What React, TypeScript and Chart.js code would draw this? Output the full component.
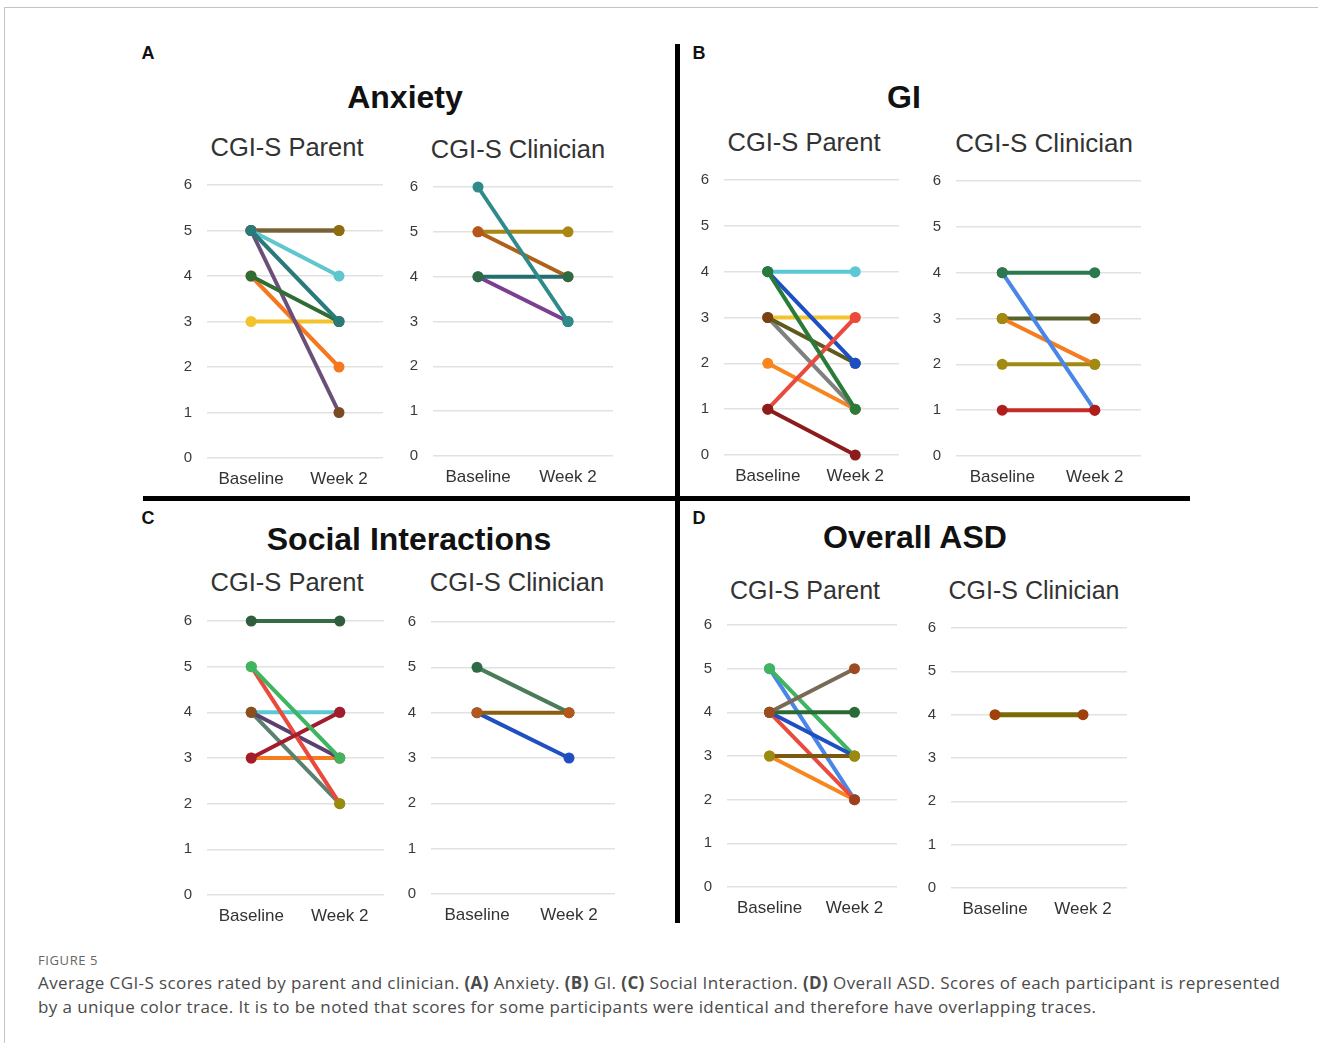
import React, { useEffect, useRef } from "react";
import { Chart, registerables } from "chart.js";

Chart.register(...registerables);

// ---------- data ----------
const categories = ["Baseline", "Week 2"];
const yTickMin = 0;
const yTickMax = 6;

// A: Anxiety
const anxietyParent = [[3, 3], [4, 2], [5, 5], [5, 5], [5, 4], [5, 1], [4, 3], [5, 3]];
const anxietyParentLine = ["#f4c22b", "#f5781e", "#a3850c", "#76603e", "#5ec6cc", "#6a5079", "#2f6d35", "#2a7a7b"];
const anxietyParentPoint = ["#f4c22b", "#f5781e", "#a3850c", "#8d6c12", "#5ec6cc", "#7a4a22", "#2f6d35", "#2a7a7b"];

const anxietyClinician = [[4, 3], [5, 5], [5, 4], [4, 4], [6, 3]];
const anxietyClinicianLine = ["#7b3f8f", "#a88712", "#b0601a", "#236e6e", "#2f8a8a"];
const anxietyClinicianPoint = ["#2a7a7b", "#a88712", "#b5561a", "#2e6b45", "#2f8a8a"];

// B: GI
const giParent = [[4, 4], [3, 3], [2, 1], [3, 1], [3, 2], [4, 2], [1, 3], [4, 1], [1, 0]];
const giParentLine = ["#5bc8d6", "#f4c430", "#f7861f", "#808080", "#5d5a1e", "#1d4fc4", "#ea4a3d", "#2a7a3a", "#8c1c1c"];
const giParentPoint = ["#5bc8d6", "#f4c430", "#f7861f", "#808080", "#7a4010", "#1d4fc4", "#ea4a3d", "#2a7a3a", "#8c1c1c"];

const giClinician = [[2, 2], [1, 1], [3, 3], [3, 2], [4, 1], [4, 4]];
const giClinicianLine = ["#a08a10", "#c62a2a", "#56632a", "#f57c20", "#4a86e8", "#2a7a50"];
const giClinicianPoint = ["#a08a10", "#b01d1d", "#8a4a10", "#a08a10", "#b01d1d", "#2a7a50"];

// C: Social Interactions
const socialParent = [[6, 6], [3, 3], [4, 4], [4, 2], [4, 3], [5, 2], [3, 4], [5, 3]];
const socialParentLine = ["#356b45", "#f57c20", "#5bc8d6", "#5a8070", "#5a4070", "#ea4a3d", "#a21c2c", "#3fb560"];
const socialParentPoint = ["#2e5e3c", "#f57c20", "#8a5020", "#9a8a10", "#8a5020", "#9a8a10", "#a21c2c", "#3fb560"];

const socialClinician = [[5, 4], [4, 3], [4, 4]];
const socialClinicianLine = ["#4a7c59", "#1f4fc0", "#8a6010"];
const socialClinicianPoint = ["#2e6b45", "#1f4fc0", "#b5561a"];

// D: Overall ASD
const overallParent = [[3, 2], [5, 2], [4, 2], [5, 3], [4, 3], [4, 4], [3, 3], [4, 5]];
const overallParentLine = ["#f7861f", "#4a86e8", "#ea4a3d", "#3fb560", "#1f4fc0", "#2a6b35", "#7a5a10", "#7a6a55"];
const overallParentPoint = ["#f7861f", "#4a86e8", "#a0401a", "#3fb560", "#9a8a10", "#2a6b35", "#9a8a10", "#a04a20"];

const overallClinician = [[4, 4]];
const overallClinicianLine = ["#7a6a05"];
const overallClinicianPoint = ["#a0400a"];

// ---------- layout ----------
type Box = { left: number; top: number; w: number; h: number };
const YW = 40;
const PT = 14;
const PR = 10;
const XH = 36;
const FONT = "'Liberation Sans', Arial, sans-serif";

function MiniChart(props: {
  box: Box;
  values: number[][];
  lineColors: string[];
  pointColors: string[];
  lineWidth?: number;
}) {
  const { box, values, lineColors, pointColors, lineWidth } = props;
  const ref = useRef<HTMLCanvasElement>(null);
  useEffect(() => {
    const chart = new Chart(ref.current as HTMLCanvasElement, {
      type: "line",
      data: {
        labels: categories,
        datasets: values.map((v, i) => ({
          data: v,
          borderColor: lineColors[i],
          backgroundColor: pointColors[i],
          pointBackgroundColor: pointColors[i],
          pointBorderColor: pointColors[i],
          pointRadius: 5.5,
          pointBorderWidth: 0,
          borderWidth: lineWidth || 4,
          clip: false,
          fill: false,
          tension: 0,
          order: values.length - i,
        })),
      },
      options: {
        animation: false,
        responsive: false,
        maintainAspectRatio: false,
        events: [],
        layout: { padding: { top: PT, right: PR, left: 0, bottom: 0 } },
        plugins: {
          legend: { display: false },
          tooltip: { enabled: false },
          title: { display: false },
        },
        scales: {
          x: {
            type: "category",
            offset: true,
            grid: { display: false, drawTicks: false },
            border: { display: false },
            ticks: {
              font: { family: FONT, size: 17 },
              color: "#333",
              padding: 11,
              maxRotation: 0,
            },
            afterFit: (s: any) => {
              s.height = XH;
              s.paddingLeft = 0;
              s.paddingRight = 0;
            },
          },
          y: {
            min: yTickMin,
            max: yTickMax,
            ticks: {
              stepSize: 1,
              font: { family: FONT, size: 15 },
              color: "#3a3a3a",
              padding: 15,
            },
            grid: { color: "#e2e2e2", lineWidth: 1.5, drawTicks: false },
            border: { display: false },
            afterFit: (s: any) => {
              s.width = YW;
              s.paddingTop = 0;
              s.paddingBottom = 0;
            },
          },
        },
      } as any,
    });
    return () => chart.destroy();
  }, []);
  const W = box.w + YW + PR;
  const H = box.h + PT + XH;
  return (
    <canvas
      ref={ref}
      width={W}
      height={H}
      style={{ position: "absolute", left: box.left - YW, top: box.top - PT, width: W, height: H }}
    />
  );
}

function Text(props: { x: number; y: number; size: number; bold?: boolean; color?: string; children: any }) {
  return (
    <div
      style={{
        position: "absolute",
        left: props.x,
        top: props.y,
        transform: "translate(-50%, -50%)",
        fontFamily: FONT,
        fontSize: props.size,
        fontWeight: props.bold ? 700 : 400,
        color: props.color || "#111",
        lineHeight: 1,
        whiteSpace: "nowrap",
      }}
    >
      {props.children}
    </div>
  );
}

export default function App() {
  return (
    <div style={{ position: "absolute", left: 0, top: 0, width: 1318, height: 1043, background: "#fff", overflow: "hidden" }}>
      {/* frame */}
      <div style={{ position: "absolute", left: 4, top: 7, width: 1320, height: 1040, borderTop: "1px solid #c4c4c4", borderLeft: "1px solid #c4c4c4" }} />
      {/* dividers */}
      <div style={{ position: "absolute", left: 675, top: 44, width: 5, height: 879, background: "#000" }} />
      <div style={{ position: "absolute", left: 143, top: 496, width: 1047, height: 5, background: "#000" }} />

      {/* panel letters */}
      <Text x={148} y={53} size={18} bold>A</Text>
      <Text x={699} y={53} size={18} bold>B</Text>
      <Text x={148} y={518} size={18} bold>C</Text>
      <Text x={699} y={518} size={18} bold>D</Text>

      {/* titles */}
      <Text x={405} y={97} size={32} bold>Anxiety</Text>
      <Text x={904} y={97} size={32} bold>GI</Text>
      <Text x={409} y={539} size={32} bold>Social Interactions</Text>
      <Text x={915} y={537} size={32} bold>Overall ASD</Text>

      <Text x={287} y={148} size={25.5} color="#333">CGI-S Parent</Text>
      <Text x={518} y={150} size={25.5} color="#333">CGI-S Clinician</Text>
      <Text x={804} y={143} size={25.5} color="#333">CGI-S Parent</Text>
      <Text x={1044} y={143} size={26} color="#333">CGI-S Clinician</Text>
      <Text x={287} y={583} size={25.5} color="#333">CGI-S Parent</Text>
      <Text x={517} y={583} size={25.5} color="#333">CGI-S Clinician</Text>
      <Text x={805} y={590} size={25} color="#333">CGI-S Parent</Text>
      <Text x={1034} y={590} size={25} color="#333">CGI-S Clinician</Text>

      {/* charts */}
      <MiniChart box={{ left: 207, top: 185, w: 176, h: 273 }} values={anxietyParent} lineColors={anxietyParentLine} pointColors={anxietyParentPoint} />
      <MiniChart box={{ left: 433, top: 187, w: 180, h: 269 }} values={anxietyClinician} lineColors={anxietyClinicianLine} pointColors={anxietyClinicianPoint} />
      <MiniChart box={{ left: 724, top: 180, w: 175, h: 275 }} values={giParent} lineColors={giParentLine} pointColors={giParentPoint} />
      <MiniChart box={{ left: 956, top: 181, w: 185, h: 275 }} values={giClinician} lineColors={giClinicianLine} pointColors={giClinicianPoint} />
      <MiniChart box={{ left: 207, top: 621, w: 177, h: 274 }} values={socialParent} lineColors={socialParentLine} pointColors={socialParentPoint} />
      <MiniChart box={{ left: 431, top: 622, w: 184, h: 272 }} values={socialClinician} lineColors={socialClinicianLine} pointColors={socialClinicianPoint} />
      <MiniChart box={{ left: 727, top: 625, w: 170, h: 262 }} values={overallParent} lineColors={overallParentLine} pointColors={overallParentPoint} />
      <MiniChart box={{ left: 951, top: 628, w: 176, h: 260 }} values={overallClinician} lineColors={overallClinicianLine} pointColors={overallClinicianPoint} lineWidth={5} />

      {/* caption */}
      <div style={{ position: "absolute", left: 38, top: 952, fontFamily: "'Open Sans', 'Noto Sans', sans-serif", fontSize: 13, letterSpacing: 0.6, color: "#666", lineHeight: "16px", whiteSpace: "nowrap" }}>
        FIGURE 5
      </div>
      <div style={{ position: "absolute", left: 38, top: 971, fontFamily: "'Open Sans', 'Noto Sans', sans-serif", fontSize: 17, letterSpacing: 0.4, color: "#4a4a4a", lineHeight: "24px", whiteSpace: "nowrap" }}>
        Average CGI-S scores rated by parent and clinician. <b>(A)</b> Anxiety. <b>(B)</b> GI. <b>(C)</b> Social Interaction. <b>(D)</b> Overall ASD. Scores of each participant is represented
        <br />
        by a unique color trace. It is to be noted that scores for some participants were identical and therefore have overlapping traces.
      </div>
    </div>
  );
}
